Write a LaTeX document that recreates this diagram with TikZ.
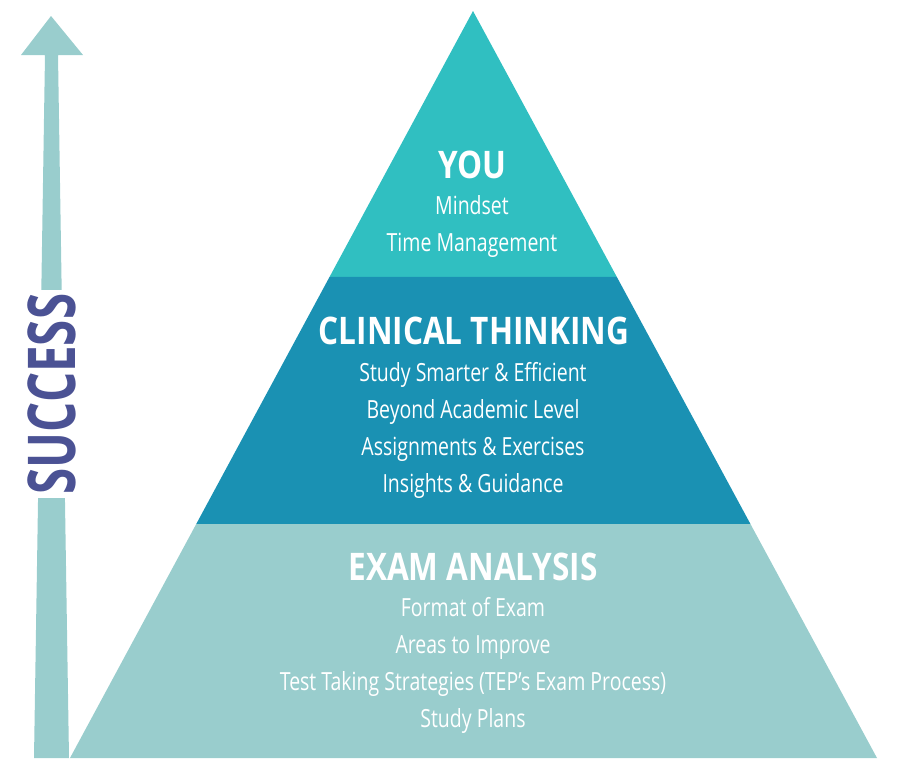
\documentclass[tikz,border=0pt]{standalone}
\usepackage{fontspec}
\newfontfamily\itemfont{Open Sans}[FakeStretch=0.78]
\newfontfamily\headfont{Open Sans}[FakeStretch=0.83]
\newfontfamily\signfont{Open Sans}[FakeStretch=0.72]
\usetikzlibrary{calc}
\definecolor{topteal}{HTML}{30BFC1}
\definecolor{midblue}{HTML}{1A91B3}
\definecolor{paleteal}{HTML}{99CDCD}
\definecolor{slateblue}{HTML}{4B5294}
\tikzset{
  heading/.style={text=white, font=\headfont\bfseries\fontsize{38}{42}\selectfont, inner sep=0pt},
  items/.style={text=white, align=center, font=\itemfont\fontsize{25}{37}\selectfont, inner sep=0pt}
}

\begin{document}
\begin{tikzpicture}[x=1pt, y=-1pt]
			%%%%% FRAME %%%%%
			\useasboundingbox (0, 0) rectangle (900, 766);
			
			%%%%% PYRAMID %%%%%
			\coordinate (apex) at (473, 11);
			\coordinate (bl) at (70, 758);
			\coordinate (br) at (877, 758);
			\coordinate (ml) at ($(apex)!0.356!(bl)$);
			\coordinate (mr) at ($(apex)!0.356!(br)$);
			\coordinate (ll) at ($(apex)!0.687!(bl)$);
			\coordinate (lr) at ($(apex)!0.687!(br)$);
			
			\fill[topteal] (apex) -- (mr) -- (ml) -- cycle;
			\fill[midblue] (ml) -- (mr) -- (lr) -- (ll) -- cycle;
			\fill[paleteal] (ll) -- (lr) -- (br) -- (bl) -- cycle;
			
			%%%%% ARROW %%%%%
			\fill[paleteal] (34, 758) -- (45, 55) -- (21, 55) -- (51, 16) -- (83, 55) -- (58, 55) -- (69, 758) -- cycle;
			\node[rotate=90, fill=white, inner xsep=4pt, inner ysep=2pt, text=slateblue,
				font=\signfont\bfseries\fontsize{66}{70}\selectfont] (success) at (51.5, 394) {SUCCESS};
			
			%%%%% TOP %%%%%
			\node[heading] (you) at (472, 165) {YOU};
			\node[items] (youlist) at (472, 227) {Mindset\\Time Management};
			
			%%%%% MIDDLE %%%%%
			\node[heading] (clinical) at (474, 331) {CLINICAL THINKING};
			\node[items] (clinicallist) at (473, 430) {Study Smarter \& Efficient\\Beyond Academic Level\\Assignments \& Exercises\\Insights \& Guidance};
			
			%%%%% BOTTOM %%%%%
			\node[heading] (exam) at (473, 567) {EXAM ANALYSIS};
			\node[items] (examlist) at (473, 665) {Format of Exam\\Areas to Improve\\Test Taking Strategies (TEP’s Exam Process)\\Study Plans};
			
			%%%%% END %%%%%
\end{tikzpicture}
\end{document}
